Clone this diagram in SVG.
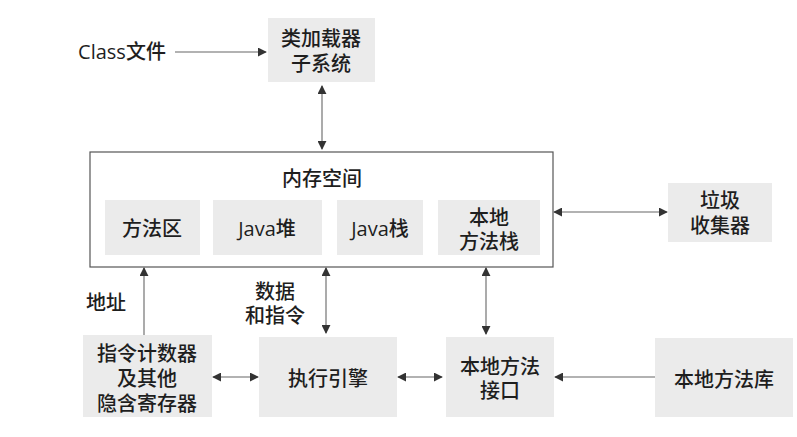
<svg xmlns="http://www.w3.org/2000/svg" width="797" height="437" viewBox="0 0 797 437">
  <style>
    .box { fill: #ebebeb; }
    .frame { fill: none; stroke: #555; stroke-width: 1.2; }
    .t { font-family: "Open Sans", "Noto Sans CJK SC", sans-serif; font-size: 20px; font-weight: 500; fill: #1e1e1e; text-anchor: middle; dominant-baseline: central; }
    .wire { fill: none; stroke: #666; stroke-width: 1.1; }
  </style>
  <defs>
    <marker id="head" viewBox="0 0 10 10" refX="9" refY="5" markerWidth="9" markerHeight="9" markerUnits="userSpaceOnUse" orient="auto-start-reverse">
      <path d="M0,0 L10,5 L0,10 Z" fill="#333"/>
    </marker>
  </defs>
  <rect width="797" height="437" fill="#fff"/>

  <!-- connectors and their labels -->
  <g id="connectors">
    <line class="wire" x1="175" y1="52" x2="266" y2="52" marker-end="url(#head)"/>
    <line class="wire" x1="322" y1="86" x2="322" y2="149" marker-start="url(#head)" marker-end="url(#head)"/>
    <line class="wire" x1="554" y1="212" x2="667" y2="212" marker-start="url(#head)" marker-end="url(#head)"/>
    <line class="wire" x1="144" y1="335" x2="144" y2="268" marker-end="url(#head)"/>
    <line class="wire" x1="326" y1="268" x2="326" y2="333" marker-start="url(#head)" marker-end="url(#head)"/>
    <line class="wire" x1="486" y1="268" x2="486" y2="334" marker-start="url(#head)" marker-end="url(#head)"/>
    <line class="wire" x1="213" y1="377" x2="258" y2="377" marker-start="url(#head)" marker-end="url(#head)"/>
    <line class="wire" x1="398" y1="377" x2="442" y2="377" marker-start="url(#head)" marker-end="url(#head)"/>
    <line class="wire" x1="655" y1="377" x2="555" y2="377" marker-end="url(#head)"/>
    <text class="t" x="106" y="302">地址</text>
    <text class="t" x="275" y="291">数据</text>
    <text class="t" x="275" y="315">和指令</text>
  </g>

  <g id="class-file">
    <text class="t" x="122" y="51">Class文件</text>
  </g>

  <g id="class-loader">
    <rect class="box" x="268" y="18" width="107" height="64"/>
    <text class="t" x="321" y="38">类加载器</text>
    <text class="t" x="321" y="63">子系统</text>
  </g>

  <g id="memory">
    <rect class="frame" x="90" y="152" width="463" height="115"/>
    <text class="t" x="322" y="178">内存空间</text>
  </g>

  <g id="method-area">
    <rect class="box" x="105" y="200" width="95" height="55"/>
    <text class="t" x="152" y="228">方法区</text>
  </g>

  <g id="java-heap">
    <rect class="box" x="213" y="200" width="109" height="55"/>
    <text class="t" x="267" y="228">Java堆</text>
  </g>

  <g id="java-stack">
    <rect class="box" x="337" y="200" width="86" height="55"/>
    <text class="t" x="380" y="228">Java栈</text>
  </g>

  <g id="native-stack">
    <rect class="box" x="438" y="200" width="102" height="55"/>
    <text class="t" x="489" y="217">本地</text>
    <text class="t" x="489" y="241">方法栈</text>
  </g>

  <g id="gc">
    <rect class="box" x="668" y="183" width="104" height="59"/>
    <text class="t" x="720" y="200">垃圾</text>
    <text class="t" x="720" y="225">收集器</text>
  </g>

  <g id="pc-registers">
    <rect class="box" x="83" y="335" width="129" height="82"/>
    <text class="t" x="147" y="353">指令计数器</text>
    <text class="t" x="147" y="378">及其他</text>
    <text class="t" x="147" y="403">隐含寄存器</text>
  </g>

  <g id="exec-engine">
    <rect class="box" x="259" y="337" width="138" height="80"/>
    <text class="t" x="328" y="378">执行引擎</text>
  </g>

  <g id="native-interface">
    <rect class="box" x="446" y="337" width="108" height="80"/>
    <text class="t" x="500" y="366">本地方法</text>
    <text class="t" x="500" y="390">接口</text>
  </g>

  <g id="native-lib">
    <rect class="box" x="655" y="338" width="138" height="79"/>
    <text class="t" x="724" y="379">本地方法库</text>
  </g>
</svg>
